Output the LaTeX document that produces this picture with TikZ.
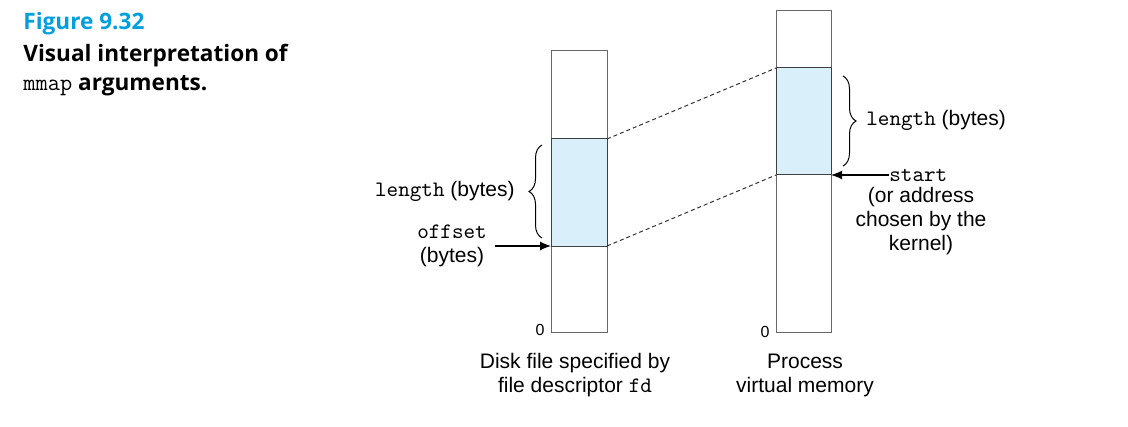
\documentclass[tikz,border=0pt]{standalone}
\usepackage{fontspec}
\setmainfont{Liberation Sans}
\setmonofont{Latin Modern Mono}[Scale=1.05]
\newfontfamily\capfont{Open Sans}
\usetikzlibrary{arrows.meta,decorations.pathreplacing}
\definecolor{figblue}{RGB}{0,160,222}
\definecolor{mapfill}{RGB}{217,239,249}
\definecolor{colline}{RGB}{105,105,105}
\begin{document}
\begin{tikzpicture}[x=0.5pt, y=-0.5pt,
		lbl/.style={font=\fontsize{10.5}{12}\selectfont, inner sep=0pt, align=center},
		zero/.style={font=\fontsize{8}{9}\selectfont, inner sep=0pt},
		capline/.style={font=\capfont\bfseries\fontsize{11.3}{14}\selectfont, inner sep=0pt, anchor=base west},
		col/.style={draw=colline, line width=0.5pt},
		mapped/.style={draw=black!75, line width=0.5pt, fill=mapfill},
		mapline/.style={draw=black!80, dash pattern=on 2pt off 1.5pt, line width=0.5pt},
		ptr/.style={-{Latex[length=5.5pt,width=4.5pt]}, line width=0.6pt},
		brc/.style={decorate, decoration={brace, amplitude=6.5pt}, line width=0.5pt}]
			%%%%% START %%%%%
			\useasboundingbox (0,0) rectangle (1128,427);
			
			% caption
			\node[capline, text=figblue] (figno) at (23,30) {Figure 9.32};
			\node[capline] (capa) at (23,62) {Visual interpretation of};
			\node[capline] (capb) at (23,91) {{\mdseries\ttfamily mmap} arguments.};
			
			% disk file
			\draw[col] (551,51) rectangle (607,332);
			\draw[mapped] (551,139) rectangle (607,246);
			\coordinate (fileTop) at (607,139);
			\coordinate (fileBot) at (607,246);
			\coordinate (fileOff) at (551,246);
			
			% virtual memory
			\draw[col] (776,11) rectangle (831,332);
			\draw[mapped] (776,68) rectangle (831,175);
			\coordinate (vmTop) at (776,68);
			\coordinate (vmBot) at (776,175);
			\coordinate (vmStart) at (831,175);
			
			\draw[mapline] (fileTop) -- (vmTop);
			\draw[mapline] (fileBot) -- (vmBot);
			
			% left labels
			\draw[brc] (542,238) -- (542,145);
			\node[lbl, anchor=east] (flen) at (515,191) {\texttt{length} (bytes)};
			\node[lbl] (foff) at (452,246) {\texttt{offset}\\(bytes)};
			\draw[ptr] (495,246) -- (fileOff);
			
			% right labels
			\draw[brc] (843,76) -- (843,166);
			\node[lbl, anchor=west] (vlen) at (866,120) {\texttt{length} (bytes)};
			\node[lbl, anchor=west] (vstart) at (889,175) {\texttt{start}};
			\draw[ptr] (vstart.west) -- (vmStart);
			\node[lbl] (vnote) at (921,221) {(or address\\chosen by the\\kernel)};
			
			% bottoms
			\node[zero] (fzero) at (540,330) {0};
			\node[zero] (vzero) at (765,332) {0};
			\node[lbl] (fname) at (575,375) {Disk file specified by\\file descriptor \texttt{fd}};
			\node[lbl] (vname) at (805,375) {Process\\virtual memory};
			%%%%% END %%%%%
		\end{tikzpicture}
\end{document}
